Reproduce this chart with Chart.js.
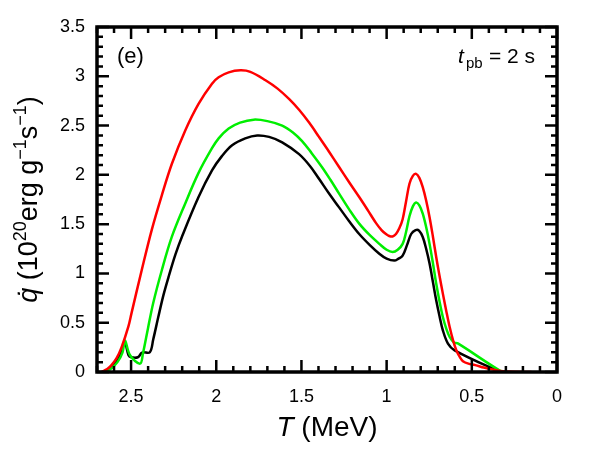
<!DOCTYPE html>
<html><head><meta charset="utf-8">
<script src="https://cdn.jsdelivr.net/npm/chart.js@4/dist/chart.umd.min.js"></script>
<style>html,body{margin:0;padding:0;background:#fff}</style>
</head><body>
<canvas id="c" width="600" height="450"></canvas>
<script>
// ---- data ----
const xTickValues = [2.5, 2, 1.5, 1, 0.5, 0];
const yTickValues = [0, 0.5, 1, 1.5, 2, 2.5, 3, 3.5];

const redT = [2.675,2.64,2.615,2.585,2.556,2.516,2.497,2.438,2.379,2.32,2.261,2.182,2.104,2.025,1.986,1.927,1.858,1.80,1.711,1.64,1.573,1.514,1.455,1.397,1.338,1.279,1.22,1.161,1.11,1.062,1.03,1.004,0.985,0.965,0.945,0.925,0.906,0.886,0.866,0.846,0.827,0.808,0.788,0.768,0.748,0.728,0.709,0.690,0.670,0.650,0.630,0.610,0.591,0.570,0.552,0.52,0.48,0.43,0.395,0.35,0.316,0.25,0.15];
const redQ = [0.0,0.03,0.07,0.14,0.25,0.46,0.60,1.03,1.44,1.79,2.11,2.45,2.72,2.925,2.99,3.04,3.06,3.045,2.96,2.875,2.77,2.66,2.53,2.385,2.235,2.08,1.925,1.775,1.64,1.51,1.44,1.40,1.38,1.375,1.40,1.46,1.55,1.73,1.91,1.99,2.01,1.97,1.876,1.74,1.57,1.37,1.166,0.98,0.795,0.62,0.456,0.32,0.22,0.15,0.11,0.085,0.07,0.045,0.03,0.015,0.008,0.003,0.0];

const greenT = [2.657,2.62,2.58,2.55,2.536,2.506,2.447,2.43,2.40,2.37,2.32,2.261,2.182,2.104,2.025,1.986,1.927,1.86,1.78,1.70,1.613,1.55,1.495,1.44,1.38,1.33,1.279,1.22,1.161,1.10,1.043,1.00,0.965,0.935,0.906,0.886,0.866,0.846,0.827,0.808,0.788,0.768,0.748,0.728,0.709,0.690,0.670,0.650,0.630,0.605,0.582,0.336,0.30];
const greenQ = [0.0,0.03,0.10,0.20,0.32,0.17,0.085,0.19,0.45,0.70,1.03,1.37,1.71,2.02,2.27,2.37,2.47,2.53,2.56,2.545,2.50,2.43,2.34,2.22,2.08,1.95,1.81,1.65,1.505,1.39,1.30,1.24,1.217,1.24,1.30,1.42,1.58,1.68,1.72,1.69,1.607,1.47,1.30,1.10,0.897,0.72,0.558,0.44,0.355,0.30,0.29,0.015,0.0];

const blackT = [2.668,2.63,2.59,2.56,2.536,2.515,2.50,2.46,2.44,2.43,2.39,2.37,2.34,2.31,2.28,2.24,2.202,2.104,2.025,1.967,1.907,1.83,1.76,1.69,1.613,1.514,1.45,1.397,1.338,1.279,1.22,1.161,1.10,1.043,1.00,0.955,0.93,0.906,0.88,0.856,0.83,0.81,0.788,0.768,0.748,0.728,0.709,0.690,0.670,0.64,0.601,0.355,0.32];
const blackQ = [0.0,0.03,0.10,0.20,0.29,0.17,0.15,0.15,0.19,0.20,0.20,0.33,0.56,0.78,0.964,1.19,1.37,1.775,2.045,2.19,2.30,2.37,2.40,2.385,2.33,2.21,2.09,1.96,1.81,1.67,1.53,1.40,1.29,1.20,1.15,1.13,1.15,1.18,1.29,1.40,1.44,1.435,1.37,1.25,1.10,0.91,0.727,0.57,0.423,0.288,0.22,0.017,0.0];

const toXY = (T, Q) => T.map((t, i) => ({x: t, y: Q[i]}));

const FONT = "'Liberation Sans', Arial, sans-serif";

function drawRich(ctx, segs, x, y, align) {
  let w = 0;
  segs.forEach(s => { ctx.font = (s.italic ? 'italic ' : '') + s.size + 'px ' + FONT; s.w = ctx.measureText(s.t).width; w += s.w; });
  let cx = align === 'center' ? x - w / 2 : x;
  segs.forEach(s => {
    ctx.font = (s.italic ? 'italic ' : '') + s.size + 'px ' + FONT;
    ctx.fillText(s.t, cx, y + (s.dy || 0));
    cx += s.w;
  });
}

const decor = {
  id: 'decor',
  afterDatasetsDraw(chart) {
    const ctx = chart.ctx, a = chart.chartArea, xs = chart.scales.x, ys = chart.scales.y;
    ctx.save();
    ctx.strokeStyle = '#000';
    ctx.lineCap = 'butt';
    ctx.lineWidth = 2.5;
    for (let i = 0; i <= 27; i++) {
      const v = i / 10, major = i % 5 === 0, len = major ? 12 : 6;
      const px = xs.getPixelForValue(v);
      ctx.beginPath();
      ctx.moveTo(px, a.bottom); ctx.lineTo(px, a.bottom - len);
      ctx.moveTo(px, a.top); ctx.lineTo(px, a.top + len);
      ctx.stroke();
    }
    for (let i = 0; i <= 35; i++) {
      const v = i / 10, major = i % 5 === 0, len = major ? 12 : 6;
      const py = ys.getPixelForValue(v);
      ctx.beginPath();
      ctx.moveTo(a.left, py); ctx.lineTo(a.left + len, py);
      ctx.moveTo(a.right, py); ctx.lineTo(a.right - len, py);
      ctx.stroke();
    }
    ctx.lineWidth = 3.5;
    ctx.strokeRect(a.left, a.top, a.right - a.left, a.bottom - a.top);
    ctx.restore();
  },
  afterDraw(chart) {
    const ctx = chart.ctx, a = chart.chartArea;
    ctx.save();
    ctx.fillStyle = '#000';
    ctx.textBaseline = 'alphabetic';
    drawRich(ctx, [
      {t: 'T', size: 28, italic: true},
      {t: ' (MeV)', size: 28}
    ], (a.left + a.right) / 2, 436, 'center');
    ctx.translate(27, (a.top + a.bottom) / 2);
    ctx.rotate(-Math.PI / 2);
    drawRich(ctx, [
      {t: 'q\u0307', size: 27, italic: true},
      {t: ' (10', size: 27},
      {t: '20', size: 18, dy: -11},
      {t: 'erg g', size: 27},
      {t: '\u22121', size: 18, dy: -11},
      {t: 's', size: 27},
      {t: '\u22121', size: 18, dy: -11},
      {t: ')', size: 27}
    ], 0, 9.5, 'center');
    ctx.restore();
    ctx.save();
    ctx.fillStyle = '#000';
    drawRich(ctx, [{t: '(e)', size: 22}], 117, 63, 'left');
    drawRich(ctx, [{t: 't', size: 21, italic: true}], 458, 63, 'left');
    drawRich(ctx, [{t: 'pb', size: 15}], 466, 68, 'left');
    drawRich(ctx, [{t: '= 2 s', size: 21}], 489, 63, 'left');
    ctx.restore();
  }
};

const lineStyle = {borderWidth: 2.5, pointRadius: 0, tension: 0.35, fill: false};

new Chart(document.getElementById('c'), {
  type: 'line',
  data: {
    datasets: [
      Object.assign({label: 'red', data: toXY(redT, redQ), borderColor: '#ff0000'}, lineStyle),
      Object.assign({label: 'green', data: toXY(greenT, greenQ), borderColor: '#00ee00'}, lineStyle),
      Object.assign({label: 'black', data: toXY(blackT, blackQ), borderColor: '#000000'}, lineStyle)
    ]
  },
  options: {
    responsive: false,
    animation: false,
    devicePixelRatio: 1,
    layout: {padding: {top: 27, right: 43, left: 0, bottom: 0}},
    plugins: {legend: {display: false}, tooltip: {enabled: false}},
    scales: {
      x: {
        type: 'linear', reverse: true, min: 0, max: 2.7,
        afterBuildTicks: s => { s.ticks = xTickValues.map(v => ({value: v})); },
        afterFit: s => { s.height = 78; },
        ticks: {font: {family: FONT, size: 18}, color: '#000', padding: 14, maxRotation: 0, callback: v => String(Math.round(v * 10) / 10)},
        grid: {display: false, drawTicks: false},
        border: {display: false},
        title: {display: false}
      },
      y: {
        type: 'linear', min: 0, max: 3.5,
        afterBuildTicks: s => { s.ticks = yTickValues.map(v => ({value: v})); },
        afterFit: s => { s.width = 97; },
        ticks: {font: {family: FONT, size: 18}, color: '#000', padding: 12, callback: v => String(Math.round(v * 10) / 10)},
        grid: {display: false, drawTicks: false},
        border: {display: false},
        title: {display: false}
      }
    }
  },
  plugins: [decor]
});
</script>
</body></html>
